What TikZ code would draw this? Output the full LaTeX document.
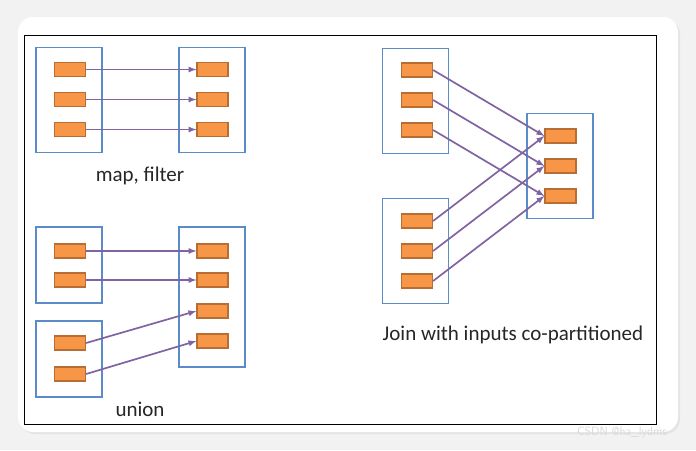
\documentclass[tikz,border=0pt]{standalone}
\usepackage{fontspec}
\setmainfont{Carlito}
\usepackage{tikz}
\usetikzlibrary{arrows,positioning,shadows}
\usepackage{xcolor}
\definecolor{mblue}{HTML}{5B8BC9}
\definecolor{morange}{HTML}{F79646}
\definecolor{mbrown}{HTML}{B86E32}
\definecolor{mpurple}{HTML}{8064A2}
\definecolor{mgray}{HTML}{F2F2F2}
\tikzstyle{part}=[rectangle, draw=mbrown, fill=morange, minimum width=31pt, minimum height=14pt, line width=1.2, inner sep=0pt]
\tikzstyle{rdd}=[rectangle, draw=mblue, minimum width=66pt, line width=1.8, inner sep=0pt]
\tikzstyle{l1}=[-latex, draw=mpurple, line width=1.7]
\tikzstyle{lbl}=[text=black!85, font=\fontsize{21}{24}\selectfont]

\begin{document}
\begin{tikzpicture}[x=1pt, y=-1pt]
    \useasboundingbox (0,0) rectangle (696,450);
    \fill[mgray] (0,0) rectangle (696,450);
    \fill[white, rounded corners=15pt, drop shadow={opacity=0.12, shadow xshift=2pt, shadow yshift=-2pt}] (18,17) rectangle (678,432);
    \draw[black, line width=1] (24,35) rectangle (656,424);

    % map, filter
    \node[rdd, minimum height=105pt] at (69,100) (m0) {};
    \node[rdd, minimum height=105pt] at (212,100) (m1) {};
    \node[part] at (70,69.5) (ma) {};
    \node[part] at (70,99.5) (mb) {};
    \node[part] at (70,129.5) (mc) {};
    \node[part] at (212.5,69.5) (md) {};
    \node[part] at (212.5,99.5) (me) {};
    \node[part] at (212.5,129.5) (mf) {};
    \draw[l1] (ma) -- (md);
    \draw[l1] (mb) -- (me);
    \draw[l1] (mc) -- (mf);
    \node[lbl] at (140,176) {map, filter};

    % union
    \node[rdd, minimum height=76pt] at (69,265) (u0) {};
    \node[rdd, minimum height=76pt] at (69,359) (u1) {};
    \node[rdd, minimum height=140pt] at (212,297) (u2) {};
    \node[part] at (70,251) (ua) {};
    \node[part] at (70,280) (ub) {};
    \node[part] at (70,343) (uc) {};
    \node[part] at (70,374) (ud) {};
    \node[part] at (212.5,251) (ue) {};
    \node[part] at (212.5,280) (uf) {};
    \node[part] at (212.5,311) (ug) {};
    \node[part] at (212.5,341) (uh) {};
    \draw[l1] (ua) -- (ue);
    \draw[l1] (ub) -- (uf);
    \draw[l1] (uc.east) -- (ug.west);
    \draw[l1] (ud.east) -- (uh.west);
    \node[lbl] at (140,409) {union};

    % join
    \node[rdd, minimum height=105pt] at (415.5,101) (j0) {};
    \node[rdd, minimum height=105pt] at (415.5,251) (j1) {};
    \node[rdd, minimum height=105pt] at (560,166) (j2) {};
    \node[part] at (417,70) (ja) {};
    \node[part] at (417,100) (jb) {};
    \node[part] at (417,130) (jc) {};
    \node[part] at (417,221) (jd) {};
    \node[part] at (417,251) (je) {};
    \node[part] at (417,281) (jf) {};
    \node[part] at (560.5,136) (jg) {};
    \node[part] at (560.5,166) (jh) {};
    \node[part] at (560.5,196) (ji) {};
    \draw[l1] (ja.east) -- (jg.west);
    \draw[l1] (jb.east) -- (jh.west);
    \draw[l1] (jc.east) -- (ji.west);
    \draw[l1] (jd.east) -- (jg.west);
    \draw[l1] (je.east) -- (jh.west);
    \draw[l1] (jf.east) -- (ji.west);
    \node[lbl] at (513,335) {Join with inputs co-partitioned};

    \node[text=black!15, font=\sffamily\fontsize{12}{14}\selectfont] at (622,432) {CSDN @ha\_lydms};
\end{tikzpicture}
\end{document}
